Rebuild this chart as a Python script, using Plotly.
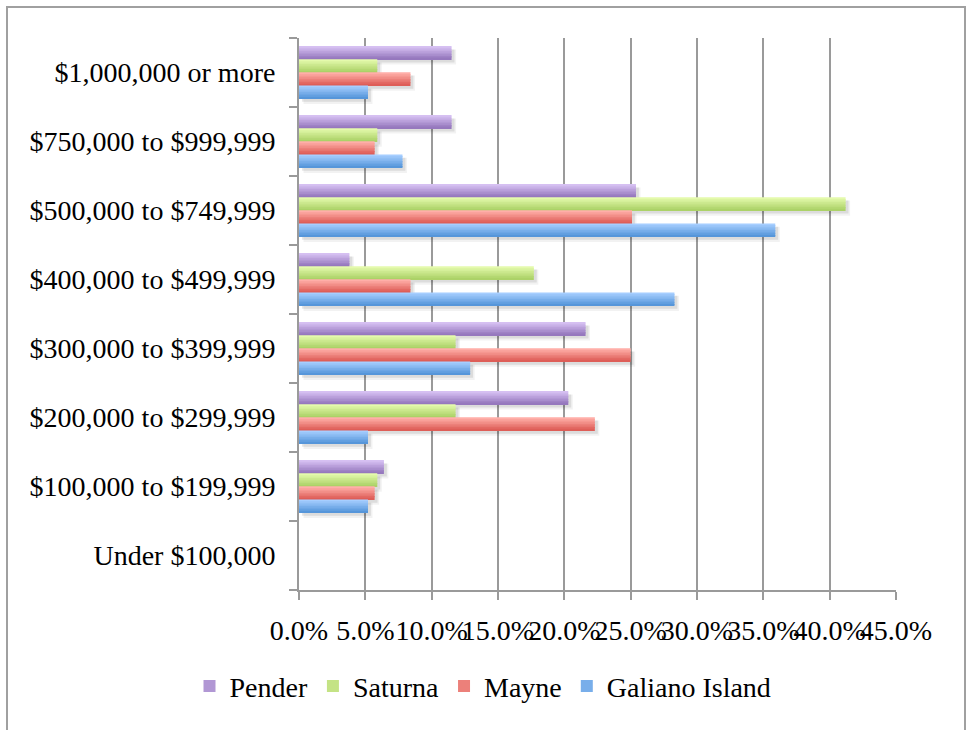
import plotly.graph_objects as go

# Home values by price band (share of dwellings, %)
categories = [
    "Under $100,000",
    "$100,000 to $199,999",
    "$200,000 to $299,999",
    "$300,000 to $399,999",
    "$400,000 to $499,999",
    "$500,000 to $749,999",
    "$750,000 to $999,999",
    "$1,000,000 or more",
]
pender = [0.0, 6.4, 20.3, 21.6, 3.8, 25.4, 11.5, 11.5]
saturna = [0.0, 5.9, 11.8, 11.8, 17.7, 41.2, 5.9, 5.9]
mayne = [0.0, 5.7, 22.3, 25.0, 8.4, 25.1, 5.7, 8.4]
galiano = [0.0, 5.2, 5.2, 12.9, 28.3, 35.9, 7.8, 5.2]
x_tick_values = [0, 5, 10, 15, 20, 25, 30, 35, 40, 45]
x_tick_labels = ["0.0%", "5.0%", "10.0%", "15.0%", "20.0%", "25.0%", "30.0%", "35.0%", "40.0%", "45.0%"]

# series listed from the top bar of each group down; colours run light (top) to dark (bottom)
series = [
    ("Pender", pender, (214, 192, 242), (150, 120, 190)),
    ("Saturna", saturna, (228, 250, 172), (172, 210, 104)),
    ("Mayne", mayne, (255, 174, 168), (222, 94, 88)),
    ("Galiano Island", galiano, (166, 206, 255), (86, 150, 218)),
]

BAR_W = 0.19
N_STRIPS = 8
GROUP_TOP = BAR_W * len(series) / 2
SHADOW_DX = 0.22      # % units, shadow shift to the right
SHADOW_DY = 0.045     # category units, shadow shift downward


def mix(c0, c1, t):
    return "rgb({},{},{})".format(*[round(a + (b - a) * t) for a, b in zip(c0, c1)])


fig = go.Figure()

# soft drop shadows behind the bars
for i, (name, vals, ctop, cbot) in enumerate(series):
    bar_top = GROUP_TOP - BAR_W * i
    for k, (grow, alpha) in enumerate([(0.03, 0.05), (0.0, 0.09)]):
        fig.add_trace(go.Bar(
            y=categories,
            x=vals,
            base=SHADOW_DX + grow * 4,
            orientation="h",
            offset=bar_top - BAR_W - SHADOW_DY - grow,
            width=BAR_W + grow,
            marker=dict(color=f"rgba(0,0,0,{alpha})", line=dict(width=0)),
            showlegend=False,
            hoverinfo="skip",
        ))

# gradient-filled bars built from thin horizontal strips
for i, (name, vals, ctop, cbot) in enumerate(series):
    bar_top = GROUP_TOP - BAR_W * i
    strip_w = BAR_W / N_STRIPS
    for j in range(N_STRIPS):
        t = j / (N_STRIPS - 1)
        fig.add_trace(go.Bar(
            y=categories,
            x=vals,
            orientation="h",
            offset=bar_top - (j + 1) * strip_w,
            width=strip_w * 1.08,
            marker=dict(color=mix(ctop, cbot, t), line=dict(width=0)),
            name=name,
            legendgroup=name,
            showlegend=(j == N_STRIPS // 2),
            legendrank=i,
            hoverinfo="skip",
        ))

L, R, T, B = 299, 70, 38, 140
W, H = 966, 730
pw, ph = W - L - R, H - T - B


def px_to_paper_x(px):
    return (px - L) / pw


def px_to_paper_y(py):
    return (H - B - py) / ph


fig.update_layout(
    width=W,
    height=H,
    margin=dict(l=L, r=R, t=T, b=B, pad=0, autoexpand=False),
    paper_bgcolor="white",
    plot_bgcolor="white",
    barmode="overlay",
    font=dict(family="Liberation Serif", size=28, color="black"),
    showlegend=True,
    legend=dict(
        orientation="h",
        xref="container", yref="container",
        x=0.5, xanchor="center",
        y=0.06, yanchor="middle",
        traceorder="normal",
        font=dict(size=28),
        itemwidth=30,
    ),
    shapes=[
        dict(
            type="rect", xref="paper", yref="paper",
            x0=px_to_paper_x(7), x1=px_to_paper_x(965),
            y0=px_to_paper_y(760), y1=px_to_paper_y(7),
            line=dict(color="#a0a0a0", width=2),
            fillcolor="rgba(0,0,0,0)",
            layer="below",
        )
    ],
)

fig.update_xaxes(
    range=[0, 45],
    tickvals=x_tick_values,
    ticktext=x_tick_labels,
    tickangle=0,
    automargin=False,
    showgrid=True,
    gridcolor="#9a9a9a",
    gridwidth=2,
    zeroline=False,
    showline=True,
    linecolor="#9a9a9a",
    linewidth=2,
    ticks="outside",
    ticklen=8,
    tickwidth=2,
    tickcolor="#9a9a9a",
    ticklabelstandoff=6,
    fixedrange=True,
)
fig.update_yaxes(
    type="category",
    categoryorder="array",
    categoryarray=categories,
    range=[-0.5, 7.5],
    tickson="boundaries",
    automargin=False,
    ticks="outside",
    ticklen=8,
    tickwidth=2,
    tickcolor="#9a9a9a",
    showgrid=False,
    zeroline=False,
    showline=True,
    linecolor="#9a9a9a",
    linewidth=2,
    ticklabelstandoff=16,
    fixedrange=True,
)

fig.write_html("out.html")
